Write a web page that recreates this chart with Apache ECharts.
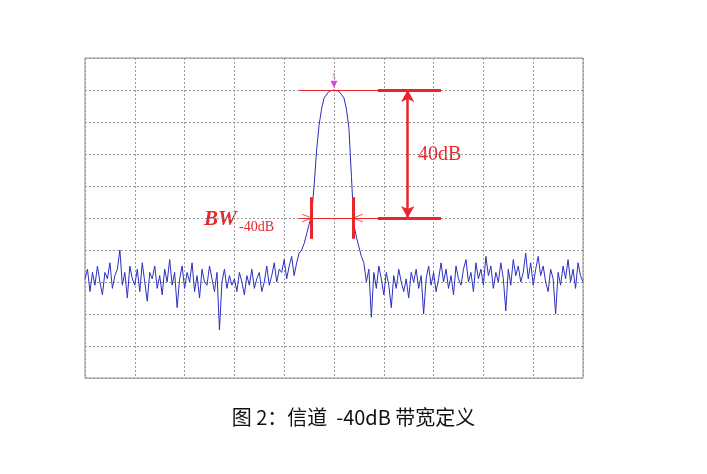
<!DOCTYPE html>
<html lang="zh">
<head>
<meta charset="UTF-8">
<title>信道 -40dB 带宽定义</title>
<script src="https://cdn.jsdelivr.net/npm/echarts@6/dist/echarts.min.js"></script>
<style>
  body { margin: 0; background: #fff; }
  #main { width: 707px; height: 474px; }
</style>
</head>
<body>
<div id="main"></div>
<script>
// 左侧噪声 (x = 0 .. 43, 步长 0.5)
const noiseLeft = [31,34,27,33,29,35,30,26,33,31,36,28,32,34,40,29,33,25,35,31,
  29,34,27,36,30,24,33,31,35,28,32,26,34,30,37,29,33,22,31,35,
  28,33,30,36,27,32,25,34,30,29,35,31,27,33,15,30,34,28,32,29,
  31,27,33,30,26,32,29,34,28,31,33,27,30,35,29,32,36,30,34,33,
  37,31,35,38,32,36,39];
// 主峰
const peak = [[43.5,40],[44,42],[44.5,45],[45,48],[45.5,51],[46,60],[46.5,71],[47,79],[47.5,84],
  [48,87.5],[49,89.6],[50,90],[51,89.6],[52,87.5],[52.5,84],[53,78],[53.5,63],[54,48],[54.5,44],[55,41],[55.5,38]];
// 右侧噪声 (x = 56 .. 100, 步长 0.5)
const noiseRight = [36,30,34,19,33,28,35,31,26,33,29,22,32,28,34,30,27,31,25,33,
  30,34,28,32,20,31,35,29,33,27,31,36,30,34,28,32,26,35,31,29,
  34,37,30,33,27,36,31,34,29,38,32,35,28,33,30,36,31,21,34,29,
  37,32,35,30,33,39,31,36,29,34,38,32,35,30,27,34,31,20,33,29,
  35,31,37,30,34,28,36,32,30];
const peakLevel = 90, bwLevel = 50, bwLeft = 45.5, bwRight = 53.9;

const spectrum = [];
noiseLeft.forEach((v, i) => spectrum.push([i * 0.5, v]));
peak.forEach(p => spectrum.push(p));
noiseRight.forEach((v, i) => spectrum.push([56 + i * 0.5, v]));

const red = '#e8262b';
function seg(a, b, w, sym) {
  return [{ coord: a, lineStyle: { width: w, color: red, type: 'solid' }, symbol: sym || 'none' },
          { coord: b, symbol: sym || 'none' }];
}

const chart = echarts.init(document.getElementById('main'));
chart.setOption({
  animation: false,
  grid: { left: 85, right: 124, top: 58, bottom: 96, show: true, borderColor: '#8a8a8a', borderWidth: 1 },
  xAxis: { type: 'value', min: 0, max: 100, interval: 10,
    axisLine: { show: false }, axisTick: { show: false }, axisLabel: { show: false },
    splitLine: { lineStyle: { type: [2, 2], color: '#9a9a9a' } } },
  yAxis: { type: 'value', min: 0, max: 100, interval: 10,
    axisLine: { show: false }, axisTick: { show: false }, axisLabel: { show: false },
    splitLine: { lineStyle: { type: [2, 2], color: '#9a9a9a' } } },
  series: [
    { type: 'line', data: spectrum, symbol: 'none', lineStyle: { color: '#2a2fc0', width: 1 }, z: 3 },
    { type: 'line', data: [], z: 4,
      markLine: { silent: true, label: { show: false }, symbolSize: [10, 12],
        data: [
          seg([43, peakLevel], [71.5, peakLevel], 1),
          seg([58.8, peakLevel], [71.5, peakLevel], 3),
          seg([43, bwLevel], [71.5, bwLevel], 1),
          seg([58.8, bwLevel], [71.5, bwLevel], 3),
          [{ coord: [64.8, peakLevel], symbol: 'arrow', lineStyle: { width: 2.5, color: red, type: 'solid' } },
           { coord: [64.8, bwLevel], symbol: 'arrow' }],
          seg([bwLeft, 56.5], [bwLeft, 43.5], 3),
          seg([bwRight, 56.5], [bwRight, 43.5], 3),
          seg([43.6, 51.2], [bwLeft, bwLevel], 0.8),
          seg([43.6, 48.8], [bwLeft, bwLevel], 0.8),
          seg([55.8, 51.2], [bwRight, bwLevel], 0.8),
          seg([55.8, 48.8], [bwRight, bwLevel], 0.8)
        ] },
      markPoint: { silent: true, symbol: 'triangle', symbolRotate: 180, symbolSize: 7,
        itemStyle: { color: '#e040e0' },
        label: { show: true, position: 'top', formatter: '1', fontSize: 7, color: '#e040e0', distance: 1 },
        data: [{ coord: [50, 91.8] }] } }
  ],
  graphic: [
    { type: 'text', left: 418, top: 145, style: { text: '40dB', font: '20px "Liberation Serif"', fill: red } },
    { type: 'text', left: 204, top: 209, style: { text: 'BW', font: 'italic bold 21px "Liberation Serif"', fill: red } },
    { type: 'text', left: 239, top: 220, style: { text: '-40dB', font: '14px "Liberation Serif"', fill: red } },
    { type: 'text', left: 'center', top: 407, style: { text: '图 2：信道  -40dB 带宽定义', font: '20px "Noto Sans CJK SC"', fill: '#111' } }
  ]
});
</script>
</body>
</html>
